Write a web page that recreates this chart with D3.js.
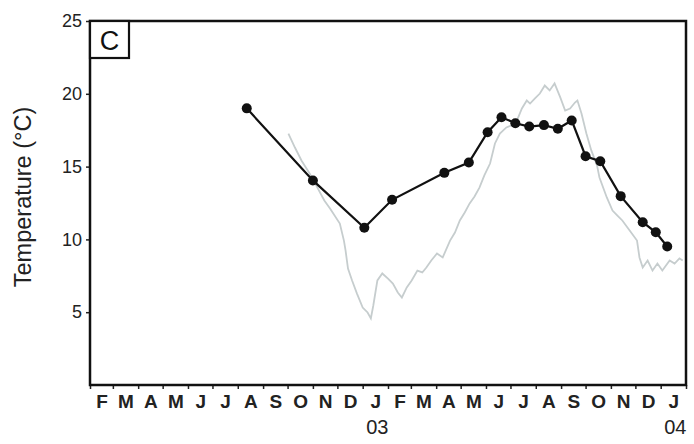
<!DOCTYPE html>
<html><head><meta charset="utf-8">
<script src="https://cdn.jsdelivr.net/npm/d3@7"></script>
<style>
html,body{margin:0;padding:0;background:#fff;}
svg{display:block;font-family:"Liberation Sans",Arial,sans-serif;}
</style></head>
<body><svg id="c" width="694" height="444"></svg>
<script>
// ---- data ----
const panelLabel = "C";
const yTitle = "Temperature (°C)";
const yTicks = [5, 10, 15, 20, 25];
const monthLabels = ["F","M","A","M","J","J","A","S","O","N","D","J","F","M","A","M","J","J","A","S","O","N","D","J"];
const yearLabels = [{i: 11, text: "03"}, {i: 23, text: "04"}];

// sampled (black, points)
const sampleDates = ["2002-08-12","2002-11-01","2003-01-03","2003-02-06","2003-04-11","2003-05-11","2003-06-03","2003-06-20","2003-07-07","2003-07-24","2003-08-11","2003-08-28","2003-09-14","2003-10-01","2003-10-19","2003-11-13","2003-12-10","2003-12-26","2004-01-09"];
const sampleTemps = [19.0,14.05,10.8,12.72,14.57,15.28,17.36,18.39,17.98,17.75,17.85,17.6,18.17,15.71,15.37,12.97,11.18,10.49,9.51];

// continuous record (grey line)
const recordDates = ["2002-10-02","2002-10-10","2002-10-18","2002-10-28","2002-11-07","2002-11-15","2002-11-22","2002-12-04","2002-12-09","2002-12-11","2002-12-14","2002-12-19","2002-12-25","2003-01-01","2003-01-07","2003-01-11","2003-01-14","2003-01-19","2003-01-25","2003-02-01","2003-02-07","2003-02-13","2003-02-18","2003-02-24","2003-03-02","2003-03-09","2003-03-15","2003-03-20","2003-03-26","2003-04-02","2003-04-09","2003-04-18","2003-04-24","2003-04-30","2003-05-06","2003-05-12","2003-05-18","2003-05-24","2003-05-30","2003-06-06","2003-06-12","2003-06-18","2003-06-26","2003-07-02","2003-07-09","2003-07-15","2003-07-21","2003-07-25","2003-07-31","2003-08-06","2003-08-12","2003-08-18","2003-08-24","2003-08-31","2003-09-06","2003-09-12","2003-09-18","2003-09-21","2003-09-26","2003-10-02","2003-10-08","2003-10-15","2003-10-18","2003-10-27","2003-11-03","2003-11-09","2003-11-15","2003-11-24","2003-12-03","2003-12-06","2003-12-10","2003-12-16","2003-12-22","2003-12-28","2004-01-03","2004-01-12","2004-01-18","2004-01-24","2004-01-28"];
const recordTemps = [17.27,16.31,15.42,14.53,13.5,12.67,12.12,11.09,9.92,9.24,8.0,7.18,6.28,5.32,4.98,4.57,5.46,7.18,7.66,7.31,6.97,6.35,6.01,6.7,7.18,7.86,7.73,8.07,8.55,9.03,8.76,9.92,10.47,11.3,11.85,12.47,12.95,13.56,14.39,15.21,16.59,17.27,17.69,17.82,18.17,18.99,19.54,19.33,19.68,20.02,20.57,20.23,20.71,19.75,18.85,18.99,19.4,19.54,18.65,17.27,16.11,15.08,14.25,12.88,11.98,11.64,11.3,10.61,9.92,8.76,8.07,8.55,7.86,8.34,7.86,8.55,8.34,8.69,8.55];

// ---- chart ----
const parse = d3.timeParse("%Y-%m-%d");
const svg = d3.select("#c");
const L = 90, R = 686, T = 21, B = 385;
const x = d3.scaleTime().domain([parse("2002-02-01"), parse("2004-02-01")]).range([L, R]);
const y = d3.scaleLinear().domain([0, 25]).range([B, T]);

const monthStarts = d3.timeMonth.range(parse("2002-02-01"), parse("2004-02-02"));
const monthMids = monthStarts.slice(0, 24).map(d => new Date((+d + +d3.timeMonth.offset(d, 1)) / 2));

// grey record
const rec = recordDates.map((d, i) => ({d: parse(d), v: recordTemps[i]}));
svg.append("path").datum(rec)
  .attr("fill", "none").attr("stroke", "#c6cdce").attr("stroke-width", 1.8)
  .attr("d", d3.line().x(d => x(d.d)).y(d => y(d.v)));

// sample line + points
const smp = sampleDates.map((d, i) => ({d: parse(d), v: sampleTemps[i]}));
svg.append("path").datum(smp)
  .attr("fill", "none").attr("stroke", "#111").attr("stroke-width", 2.2)
  .attr("d", d3.line().x(d => x(d.d)).y(d => y(d.v)));
svg.append("g").selectAll("circle").data(smp).join("circle")
  .attr("cx", d => x(d.d)).attr("cy", d => y(d.v)).attr("r", 5).attr("fill", "#111");

// y axis
const ya = svg.append("g").attr("transform", `translate(${L},0)`)
  .call(d3.axisLeft(y).tickValues(yTicks).tickSize(4).tickPadding(4));
ya.select(".domain").remove();
ya.selectAll("text").attr("font-size", 18).attr("fill", "#222").attr("font-family", "Liberation Sans, Arial, sans-serif");
ya.selectAll("line").attr("stroke", "#222").attr("stroke-width", 1.5);

// x axis ticks
const xa = svg.append("g").attr("transform", `translate(0,${B})`)
  .call(d3.axisBottom(x).tickValues(monthStarts).tickSize(4).tickFormat(""));
xa.select(".domain").remove();
xa.selectAll("line").attr("stroke", "#222").attr("stroke-width", 1.5);

// x month labels
const xl = svg.append("g").attr("transform", `translate(0,${B})`)
  .call(d3.axisBottom(x).tickValues(monthMids).tickSize(0).tickPadding(10)
    .tickFormat((d, i) => monthLabels[i]));
xl.select(".domain").remove();
xl.selectAll("text").attr("font-size", 19).attr("font-weight", "bold").attr("fill", "#222").attr("font-family", "Liberation Sans, Arial, sans-serif");

// year labels
svg.append("g").selectAll("text").data(yearLabels).join("text")
  .attr("x", d => x(monthMids[d.i]) + 2).attr("y", 434)
  .attr("text-anchor", "middle").attr("font-size", 20).attr("fill", "#222")
  .text(d => d.text);

// frame
svg.append("rect").attr("x", L).attr("y", T).attr("width", R - L).attr("height", B - T)
  .attr("fill", "none").attr("stroke", "#111").attr("stroke-width", 2.5);

// panel label
svg.append("rect").attr("x", L).attr("y", T).attr("width", 39).attr("height", 37)
  .attr("fill", "#fff").attr("stroke", "#111").attr("stroke-width", 2.2);
svg.append("text").attr("x", L + 19.5).attr("y", T + 29).attr("text-anchor", "middle")
  .attr("font-size", 27).attr("fill", "#111").text(panelLabel);

// y title
svg.append("text").attr("transform", "translate(31,197) rotate(-90)")
  .attr("text-anchor", "middle").attr("font-size", 23.5).attr("fill", "#222").text(yTitle);
</script></body></html>
